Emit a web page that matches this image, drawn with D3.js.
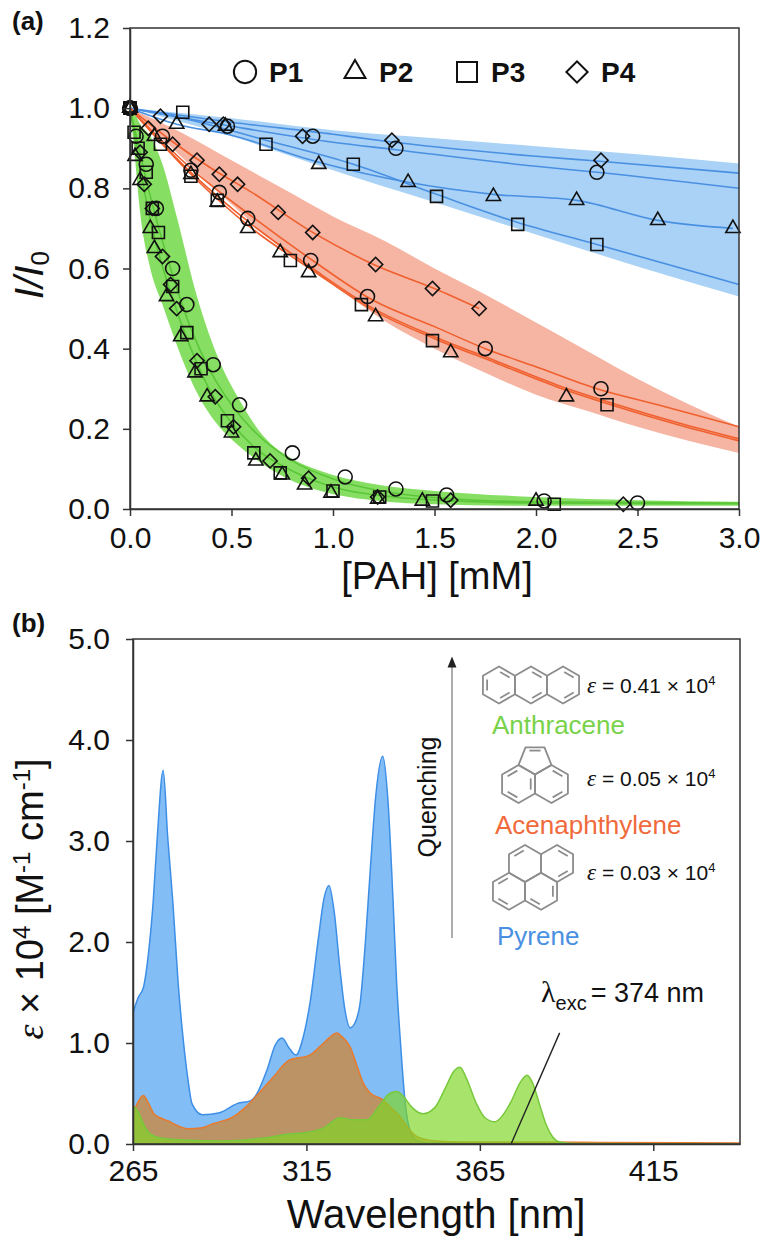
<!DOCTYPE html>
<html>
<head>
<meta charset="utf-8">
<script src="https://cdn.jsdelivr.net/npm/d3@7"></script>
<style>
  body { margin: 0; background: #fff; }
  svg { display: block; font-family: "Liberation Sans", Arial, sans-serif; }
</style>
</head>
<body>
<svg id="chart" width="763" height="1244"></svg>
<script>
// ---- panel (a): quenching data, [PAH mM, I/I0] ----
const pyrP1 = [[0,1],[0.48,0.955],[0.9,0.93],[1.31,0.9],[2.3,0.84]]
const pyrP2 = [[0,1],[0.23,0.96],[0.47,0.955],[0.93,0.86],[1.37,0.815],[1.79,0.78],[2.2,0.77],[2.6,0.72],[2.97,0.70]]
const pyrP3 = [[0,1],[0.26,0.99],[0.67,0.91],[1.1,0.86],[1.51,0.78],[1.91,0.71],[2.3,0.66]]
const pyrP4 = [[0,1],[0.15,0.98],[0.39,0.96],[0.46,0.96],[0.85,0.93],[1.29,0.92],[2.32,0.87]]

const acnP1 = [[0,1],[0.16,0.93],[0.3,0.845],[0.44,0.79],[0.58,0.725],[0.89,0.62],[1.17,0.53],[1.75,0.40],[2.32,0.30]]
const acnP2 = [[0,1],[0.12,0.93],[0.3,0.835],[0.43,0.766],[0.58,0.70],[0.74,0.64],[0.88,0.59],[1.21,0.48],[1.58,0.39],[2.15,0.28]]
const acnP3 = [[0,1],[0.15,0.91],[0.3,0.83],[0.43,0.77],[0.79,0.62],[1.14,0.51],[1.49,0.42],[2.35,0.26]]
const acnP4 = [[0,1],[0.09,0.95],[0.21,0.91],[0.33,0.87],[0.44,0.835],[0.53,0.81],[0.73,0.74],[0.9,0.69],[1.21,0.61],[1.49,0.55],[1.72,0.50]]

const antP1 = [[0,1],[0.03,0.93],[0.08,0.86],[0.13,0.75],[0.21,0.6],[0.28,0.51],[0.41,0.36],[0.54,0.26],[0.8,0.14],[1.06,0.08],[1.31,0.05],[1.56,0.035],[2.04,0.02],[2.5,0.015]]
const antP2 = [[0,1],[0.025,0.88],[0.05,0.82],[0.1,0.7],[0.12,0.65],[0.18,0.53],[0.25,0.43],[0.32,0.34],[0.38,0.28],[0.5,0.19],[0.62,0.12],[0.75,0.085],[0.86,0.06],[0.99,0.04],[1.22,0.025],[1.44,0.02],[2.0,0.02]]
const antP3 = [[0,1],[0.02,0.94],[0.04,0.9],[0.08,0.84],[0.11,0.75],[0.14,0.69],[0.21,0.555],[0.28,0.44],[0.35,0.35],[0.48,0.22],[0.61,0.14],[0.74,0.09],[1.0,0.045],[1.23,0.03],[1.49,0.02],[2.09,0.012]]
const antP4 = [[0,1],[0.05,0.89],[0.07,0.81],[0.11,0.75],[0.16,0.63],[0.2,0.56],[0.23,0.5],[0.33,0.37],[0.42,0.28],[0.51,0.205],[0.69,0.12],[0.88,0.077],[1.22,0.03],[1.58,0.022],[2.43,0.012]]

// fitted curves
const pyrFitP1 = [[0,1],[0.5,0.955],[1.0,0.915],[1.3,0.897],[2.0,0.855],[2.3,0.84],[3.0,0.80]]
const pyrFitP2 = [[0,1],[0.23,0.96],[0.48,0.935],[0.93,0.865],[1.37,0.815],[1.79,0.785],[2.2,0.77],[2.6,0.72],[2.97,0.70]]
const pyrFitP3 = [[0,1],[0.26,0.975],[0.67,0.92],[1.1,0.86],[1.51,0.785],[1.91,0.715],[2.3,0.66],[3.0,0.56]]
const pyrFitP4 = [[0,1],[0.5,0.965],[1.0,0.935],[1.25,0.918],[2.0,0.88],[2.3,0.868],[3.0,0.838]]

const acnFitP1 = [[0,1],[0.3,0.85],[0.6,0.73],[0.9,0.62],[1.2,0.52],[1.5,0.455],[1.75,0.40],[2.0,0.355],[2.3,0.30],[2.6,0.26],[3.0,0.205]]
const acnFitP2 = [[0,1],[0.3,0.84],[0.6,0.71],[0.9,0.60],[1.2,0.50],[1.5,0.43],[1.8,0.37],[2.1,0.31],[2.4,0.26],[2.7,0.215],[3.0,0.175]]
const acnFitP3 = [[0,1],[0.3,0.835],[0.6,0.70],[0.9,0.595],[1.2,0.495],[1.5,0.425],[1.8,0.365],[2.1,0.305],[2.4,0.255],[2.7,0.21],[3.0,0.17]]
const acnFitP4 = [[0,1],[0.2,0.92],[0.4,0.85],[0.6,0.79],[0.9,0.69],[1.2,0.61],[1.5,0.55],[1.72,0.50]]

const antFitP1 = [[0,1],[0.1,0.78],[0.2,0.6],[0.3,0.45],[0.4,0.34],[0.5,0.26],[0.6,0.2],[0.8,0.12],[1.0,0.075],[1.3,0.04],[1.6,0.025],[2.0,0.018],[3.0,0.015]]
const antFitP2 = [[0,1],[0.1,0.72],[0.2,0.54],[0.3,0.40],[0.4,0.29],[0.5,0.215],[0.6,0.16],[0.8,0.095],[1.0,0.055],[1.3,0.03],[1.6,0.02],[2.0,0.015],[3.0,0.013]]

// confidence bands [PAH, lower, upper]
const pyrBand = [[0,1,1],[0.5,0.93,0.975],[1.0,0.845,0.945],[1.5,0.765,0.925],[2.0,0.685,0.905],[2.5,0.605,0.885],[3.0,0.53,0.862]]
const acnBand = [[0,1,1],[0.25,0.88,0.94],[0.5,0.76,0.87],[0.75,0.65,0.80],[1.0,0.56,0.73],[1.25,0.47,0.67],[1.5,0.40,0.60],[1.75,0.34,0.535],[2.0,0.285,0.465],[2.25,0.245,0.395],[2.5,0.205,0.325],[2.75,0.17,0.262],[3.0,0.14,0.205]]
const antBand = [[0,1,1],[0.02,0.9,0.99],[0.05,0.74,0.96],[0.1,0.6,0.93],[0.16,0.51,0.86],[0.23,0.41,0.73],[0.33,0.29,0.53],[0.44,0.205,0.37],[0.53,0.16,0.28],[0.66,0.11,0.18],[0.8,0.07,0.125],[0.94,0.045,0.095],[1.23,0.02,0.06],[1.5,0.012,0.045],[2.0,0.008,0.03],[2.5,0.008,0.022],[3.0,0.008,0.018]]

// ---- panel (b): absorption spectra, [nm, eps x 1e4] ----
const pyreneSpec = [[265,1.3],[266.5,1.45],[268,1.55],[269.5,1.9],[270.8,2.39],[272,3.04],[273.7,3.7],[275,3.04],[276.5,2.39],[278,1.6],[279.4,1.06],[281,0.6],[282,0.4],[285,0.29],[290,0.31],[295,0.4],[299,0.43],[303.6,0.73],[306,0.98],[308,1.05],[310,0.95],[312,0.88],[314,1.05],[316,1.39],[318.5,2.05],[320,2.42],[321.5,2.56],[323,2.3],[324.7,1.72],[326,1.35],[327.6,1.15],[329,1.2],[330.5,1.4],[332,2.0],[333.4,2.71],[335,3.45],[337,3.84],[338.5,3.4],[340,2.39],[341,1.6],[342,1.06],[343.5,0.4],[345,0.12],[347,0.03],[350,0.01],[440,0]]
const acenaSpec = [[265,0.3],[266.5,0.42],[268,0.48],[269.5,0.4],[271,0.3],[272.8,0.26],[275,0.23],[278.6,0.17],[281,0.15],[285,0.16],[288,0.2],[294,0.27],[297,0.35],[300.7,0.48],[305.4,0.66],[310,0.83],[316,0.88],[320,1.0],[323.8,1.1],[325,1.07],[327.6,0.96],[329.5,0.78],[331.4,0.6],[333.5,0.5],[337,0.44],[339,0.37],[342,0.27],[344,0.17],[347,0.07],[352,0.03],[360,0.02],[380,0.02],[400,0.015],[440,0.01]]
const anthrSpec = [[265,0.38],[266.5,0.32],[268,0.2],[270,0.1],[273,0.06],[280,0.04],[290,0.03],[300,0.05],[305,0.07],[310,0.1],[314,0.11],[320,0.16],[324.7,0.26],[328,0.24],[332.5,0.24],[336,0.38],[339,0.5],[341,0.52],[343,0.47],[345.5,0.36],[348.6,0.30],[352,0.36],[355,0.55],[357.5,0.72],[359.3,0.76],[361,0.66],[364,0.4],[366.5,0.26],[369.4,0.22],[371.5,0.28],[374,0.42],[376.5,0.6],[378.6,0.68],[380,0.62],[382.4,0.37],[384,0.2],[386,0.07],[388,0.02],[392,0.005],[440,0]]
const excLine = [[374,0],[388,1.1]]

// ticks and labels
const ticksAX = [0, 0.5, 1, 1.5, 2, 2.5, 3]
const ticksAY = [0, 0.2, 0.4, 0.6, 0.8, 1.0, 1.2]
const ticksBX = [265, 315, 365, 415]
const ticksBY = [0, 1, 2, 3, 4, 5]
const legendNames = ['P1', 'P2', 'P3', 'P4']
const epsValues = ['0.41', '0.05', '0.03']

const font = '"Liberation Sans", Arial, sans-serif'
const serif = '"Liberation Serif", "Times New Roman", serif'
const axisColor = '#333'

let svg = d3.select('#chart')

let xA = d3.scaleLinear().domain([0, 3]).range([130, 739])
let yA = d3.scaleLinear().domain([0, 1.2]).range([509, 28])
let xB = d3.scaleLinear().domain([265, 440]).range([133, 740])
let yB = d3.scaleLinear().domain([0, 5]).range([1144, 639])

// ---------- panel (a) ----------
let gA = svg.append('g')

let band = d3.area()
    .curve(d3.curveMonotoneX)
    .x(d => xA(d[0]))
    .y0(d => yA(d[1]))
    .y1(d => yA(d[2]))

let fitLine = d3.line()
    .curve(d3.curveMonotoneX)
    .x(d => xA(d[0]))
    .y(d => yA(d[1]))

let groups = [
    { band: pyrBand, fits: [pyrFitP1, pyrFitP2, pyrFitP3, pyrFitP4], fill: '#a9d2f6', stroke: '#4a90e2' },
    { band: acnBand, fits: [acnFitP1, acnFitP2, acnFitP3, acnFitP4], fill: '#f6b4a2', stroke: '#f0602e' },
    { band: antBand, fits: [antFitP1, antFitP2], fill: '#86df62', stroke: '#5cc63a' }
]

groups.forEach(g => {
    gA.append('path').attr('d', band(g.band)).attr('fill', g.fill)
})
groups.forEach(g => {
    g.fits.forEach(f => {
        gA.append('path').attr('d', fitLine(f))
            .attr('fill', 'none').attr('stroke', g.stroke).attr('stroke-width', 1.6)
    })
})

// marker shapes: circle, triangle, square, diamond (rotated square)
let shapes = [
    { type: d3.symbolCircle, size: 154, rot: 0 },
    { type: d3.symbolTriangle, size: 88, rot: 0 },
    { type: d3.symbolSquare, size: 144, rot: 0 },
    { type: d3.symbolSquare, size: 100, rot: 45 }
]
let seriesSets = [
    [pyrP1, pyrP2, pyrP3, pyrP4],
    [acnP1, acnP2, acnP3, acnP4],
    [antP1, antP2, antP3, antP4]
]
seriesSets.forEach(set => {
    set.forEach((pts, i) => {
        let sh = shapes[i]
        gA.append('g').selectAll('path')
            .data(pts)
            .join('path')
            .attr('d', d3.symbol().type(sh.type).size(sh.size))
            .attr('transform', d => `translate(${xA(d[0])},${yA(d[1])}) rotate(${sh.rot})`)
            .attr('fill', 'none')
            .attr('stroke', '#111')
            .attr('stroke-width', 1.6)
    })
})

// frame + axes
gA.append('rect')
    .attr('x', xA(0)).attr('y', yA(1.2))
    .attr('width', xA(3) - xA(0)).attr('height', yA(0) - yA(1.2))
    .attr('fill', 'none').attr('stroke', axisColor).attr('stroke-width', 1.5)

function styleAxis(g) {
    g.attr('font-size', 30).attr('font-family', font)
    g.selectAll('.domain').attr('stroke', axisColor).attr('stroke-width', 1.5)
    g.selectAll('.tick line').attr('stroke', axisColor).attr('stroke-width', 1.5)
    g.selectAll('.tick text').attr('fill', '#111')
}

gA.append('g')
    .attr('transform', `translate(0,${yA(0)})`)
    .call(d3.axisBottom(xA).tickValues(ticksAX).tickFormat(d3.format('.1f')).tickSize(7).tickSizeOuter(0).tickPadding(11))
    .call(styleAxis)
gA.append('g')
    .attr('transform', `translate(${xA(0)},0)`)
    .call(d3.axisLeft(yA).tickValues(ticksAY).tickFormat(d3.format('.1f')).tickSize(7).tickSizeOuter(0).tickPadding(13))
    .call(styleAxis)

// legend
let legX = [245, 355, 467, 577]
let legShapes = [
    { type: d3.symbolCircle, size: 390, rot: 0 },
    { type: d3.symbolTriangle, size: 190, rot: 0 },
    { type: d3.symbolSquare, size: 400, rot: 0 },
    { type: d3.symbolSquare, size: 225, rot: 45 }
]
legendNames.forEach((name, i) => {
    let sh = legShapes[i]
    gA.append('path')
        .attr('d', d3.symbol().type(sh.type).size(sh.size))
        .attr('transform', `translate(${legX[i]},72) rotate(${sh.rot})`)
        .attr('fill', 'none').attr('stroke', '#111').attr('stroke-width', 2)
    gA.append('text')
        .attr('x', legX[i] + 24).attr('y', 82)
        .attr('font-size', 28).attr('font-weight', 'bold').attr('fill', '#111')
        .text(name)
})

// axis titles
gA.append('text')
    .attr('x', 437).attr('y', 589)
    .attr('text-anchor', 'middle').attr('font-size', 38).attr('fill', '#111')
    .text('[PAH] [mM]')

let tA = gA.append('text')
    .attr('transform', 'translate(43,275) rotate(-90)')
    .attr('text-anchor', 'middle').attr('font-size', 40).attr('fill', '#111')
tA.append('tspan').attr('font-style', 'italic').text('I/I')
tA.append('tspan').attr('font-size', 26).attr('baseline-shift', -6).text('0')

svg.append('text').attr('x', 12).attr('y', 30)
    .attr('font-size', 26).attr('font-weight', 'bold').attr('fill', '#111').text('(a)')

// ---------- panel (b) ----------
let gB = svg.append('g')

let specArea = d3.area()
    .curve(d3.curveMonotoneX)
    .x(d => xB(d[0]))
    .y0(yB(0))
    .y1(d => yB(d[1]))
let specLine = d3.line()
    .curve(d3.curveMonotoneX)
    .x(d => xB(d[0]))
    .y(d => yB(d[1]))

let spectra = [
    { data: pyreneSpec, fill: '#82bdf5', opacity: 1, stroke: '#3d8ee6' },
    { data: acenaSpec, fill: 'rgb(212,130,40)', opacity: 0.7, stroke: '#e87a2c' },
    { data: anthrSpec, fill: 'rgb(125,215,36)', opacity: 0.67, stroke: '#78c83c' }
]
spectra.forEach(s => {
    gB.append('path').attr('d', specArea(s.data))
        .attr('fill', s.fill).attr('fill-opacity', s.opacity)
    gB.append('path').attr('d', specLine(s.data))
        .attr('fill', 'none').attr('stroke', s.stroke).attr('stroke-width', 1.5)
})

gB.append('path')
    .attr('d', d3.line().x(d => xB(d[0])).y(d => yB(d[1]))(excLine))
    .attr('stroke', '#222').attr('stroke-width', 1.4).attr('fill', 'none')

gB.append('rect')
    .attr('x', xB(265)).attr('y', yB(5))
    .attr('width', xB(440) - xB(265)).attr('height', yB(0) - yB(5))
    .attr('fill', 'none').attr('stroke', axisColor).attr('stroke-width', 1.5)

gB.append('g')
    .attr('transform', `translate(0,${yB(0)})`)
    .call(d3.axisBottom(xB).tickValues(ticksBX).tickFormat(d3.format('d')).tickSize(7).tickSizeOuter(0).tickPadding(9))
    .call(styleAxis)
gB.append('g')
    .attr('transform', `translate(${xB(265)},0)`)
    .call(d3.axisLeft(yB).tickValues(ticksBY).tickFormat(d3.format('.1f')).tickSize(7).tickSizeOuter(0).tickPadding(16))
    .call(styleAxis)

gB.append('text')
    .attr('x', 436).attr('y', 1228)
    .attr('text-anchor', 'middle').attr('font-size', 40).attr('fill', '#111')
    .text('Wavelength [nm]')

let tB = gB.append('text')
    .attr('transform', 'translate(43,899) rotate(-90)')
    .attr('text-anchor', 'middle').attr('font-size', 38).attr('fill', '#111')
tB.append('tspan').attr('font-family', serif).attr('font-style', 'italic').text('ε')
tB.append('tspan').text(' × 10')
tB.append('tspan').attr('font-size', 24).attr('baseline-shift', 13).text('4')
tB.append('tspan').text(' [M')
tB.append('tspan').attr('font-size', 24).attr('baseline-shift', 13).text('-1')
tB.append('tspan').text(' cm')
tB.append('tspan').attr('font-size', 24).attr('baseline-shift', 13).text('-1')
tB.append('tspan').text(']')

svg.append('text').attr('x', 12).attr('y', 632)
    .attr('font-size', 26).attr('font-weight', 'bold').attr('fill', '#111').text('(b)')

// excitation label
let tE = gB.append('text').attr('x', 541).attr('y', 1002).attr('fill', '#111').attr('font-size', 27)
tE.append('tspan').attr('font-family', serif).attr('font-size', 30).text('λ')
tE.append('tspan').attr('font-size', 20).attr('baseline-shift', -8).text('exc')
tE.append('tspan').attr('dx', 4).text('= 374 nm')

// quenching arrow
svg.append('defs').append('marker')
    .attr('id', 'arr').attr('viewBox', '0 0 10 10').attr('refX', 5).attr('refY', 5)
    .attr('markerWidth', 7).attr('markerHeight', 7).attr('orient', 'auto')
    .append('path').attr('d', 'M0,1 L10,5 L0,9 Z').attr('fill', '#222')
gB.append('line')
    .attr('x1', 452).attr('y1', 938).attr('x2', 452).attr('y2', 662)
    .attr('stroke', '#999').attr('stroke-width', 1.6).attr('marker-end', 'url(#arr)')
gB.append('text')
    .attr('transform', 'translate(436,797) rotate(-90)')
    .attr('text-anchor', 'middle').attr('font-size', 25).attr('fill', '#111')
    .text('Quenching')

// molecule sketches
const SQ3 = Math.sqrt(3)
let molColor = '#8c8c8c'
function hexPts(cx, cy, s) {
    return d3.range(6).map(i => {
        let a = (-90 + 60 * i) * Math.PI / 180
        return [cx + s * Math.cos(a), cy + s * Math.sin(a)]
    })
}
function drawRing(pts, bonds) {
    gB.append('path').attr('d', 'M' + pts.join('L') + 'Z')
        .attr('fill', 'none').attr('stroke', molColor).attr('stroke-width', 1.8).attr('stroke-linejoin', 'round')
    let c = [d3.mean(pts, p => p[0]), d3.mean(pts, p => p[1])]
    bonds.forEach(k => {
        let p = pts[k], q = pts[(k + 1) % pts.length], f = 0.74
        let a = [c[0] + (p[0] - c[0]) * f, c[1] + (p[1] - c[1]) * f]
        let b = [c[0] + (q[0] - c[0]) * f, c[1] + (q[1] - c[1]) * f]
        let dx = (b[0] - a[0]) * 0.1, dy = (b[1] - a[1]) * 0.1
        gB.append('line')
            .attr('x1', a[0] + dx).attr('y1', a[1] + dy).attr('x2', b[0] - dx).attr('y2', b[1] - dy)
            .attr('stroke', molColor).attr('stroke-width', 1.8)
    })
}

// anthracene
let sA = 18.5, wA = sA * SQ3
drawRing(hexPts(531 - wA, 685, sA), [0, 2, 4])
drawRing(hexPts(531, 685, sA), [0, 2])
drawRing(hexPts(531 + wA, 685, sA), [0, 2])

// acenaphthylene
let sN = 19, wN = sN * SQ3, cxN = 535, cyN = 784
drawRing(hexPts(cxN - wN / 2, cyN, sN), [1, 3, 5])
drawRing(hexPts(cxN + wN / 2, cyN, sN), [0, 2])
drawRing([
    [cxN - wN / 2, cyN - sN], [cxN - 0.5 * sN, cyN - 1.93 * sN],
    [cxN + 0.5 * sN, cyN - 1.93 * sN], [cxN + wN / 2, cyN - sN], [cxN, cyN - sN / 2]
], [1])

// pyrene
let sP = 18.5, wP = sP * SQ3
drawRing(hexPts(525, 863.5, sP), [5])
drawRing(hexPts(525 + wP, 863.5, sP), [0, 2])
drawRing(hexPts(525 - wP / 2, 863.5 + 1.5 * sP, sP), [3, 5])
drawRing(hexPts(525 + wP / 2, 863.5 + 1.5 * sP, sP), [1, 3])

// eps values
let epsY = [693, 786, 880]
epsValues.forEach((v, i) => {
    let t = gB.append('text').attr('x', 587).attr('y', epsY[i]).attr('font-size', 21).attr('fill', '#111')
    t.append('tspan').attr('font-family', serif).attr('font-style', 'italic').attr('font-size', 23).text('ε')
    t.append('tspan').text(' = ' + v + ' × 10')
    t.append('tspan').attr('font-size', 13).attr('baseline-shift', 8).text('4')
})

// compound names
let names = [
    { text: 'Anthracene', x: 492, y: 734, color: '#78d24a' },
    { text: 'Acenaphthylene', x: 495, y: 834, color: '#f06a3c' },
    { text: 'Pyrene', x: 497, y: 945, color: '#4a90e2' }
]
names.forEach(n => {
    gB.append('text').attr('x', n.x).attr('y', n.y)
        .attr('font-size', 26).attr('fill', n.color).text(n.text)
})
</script>
</body>
</html>
